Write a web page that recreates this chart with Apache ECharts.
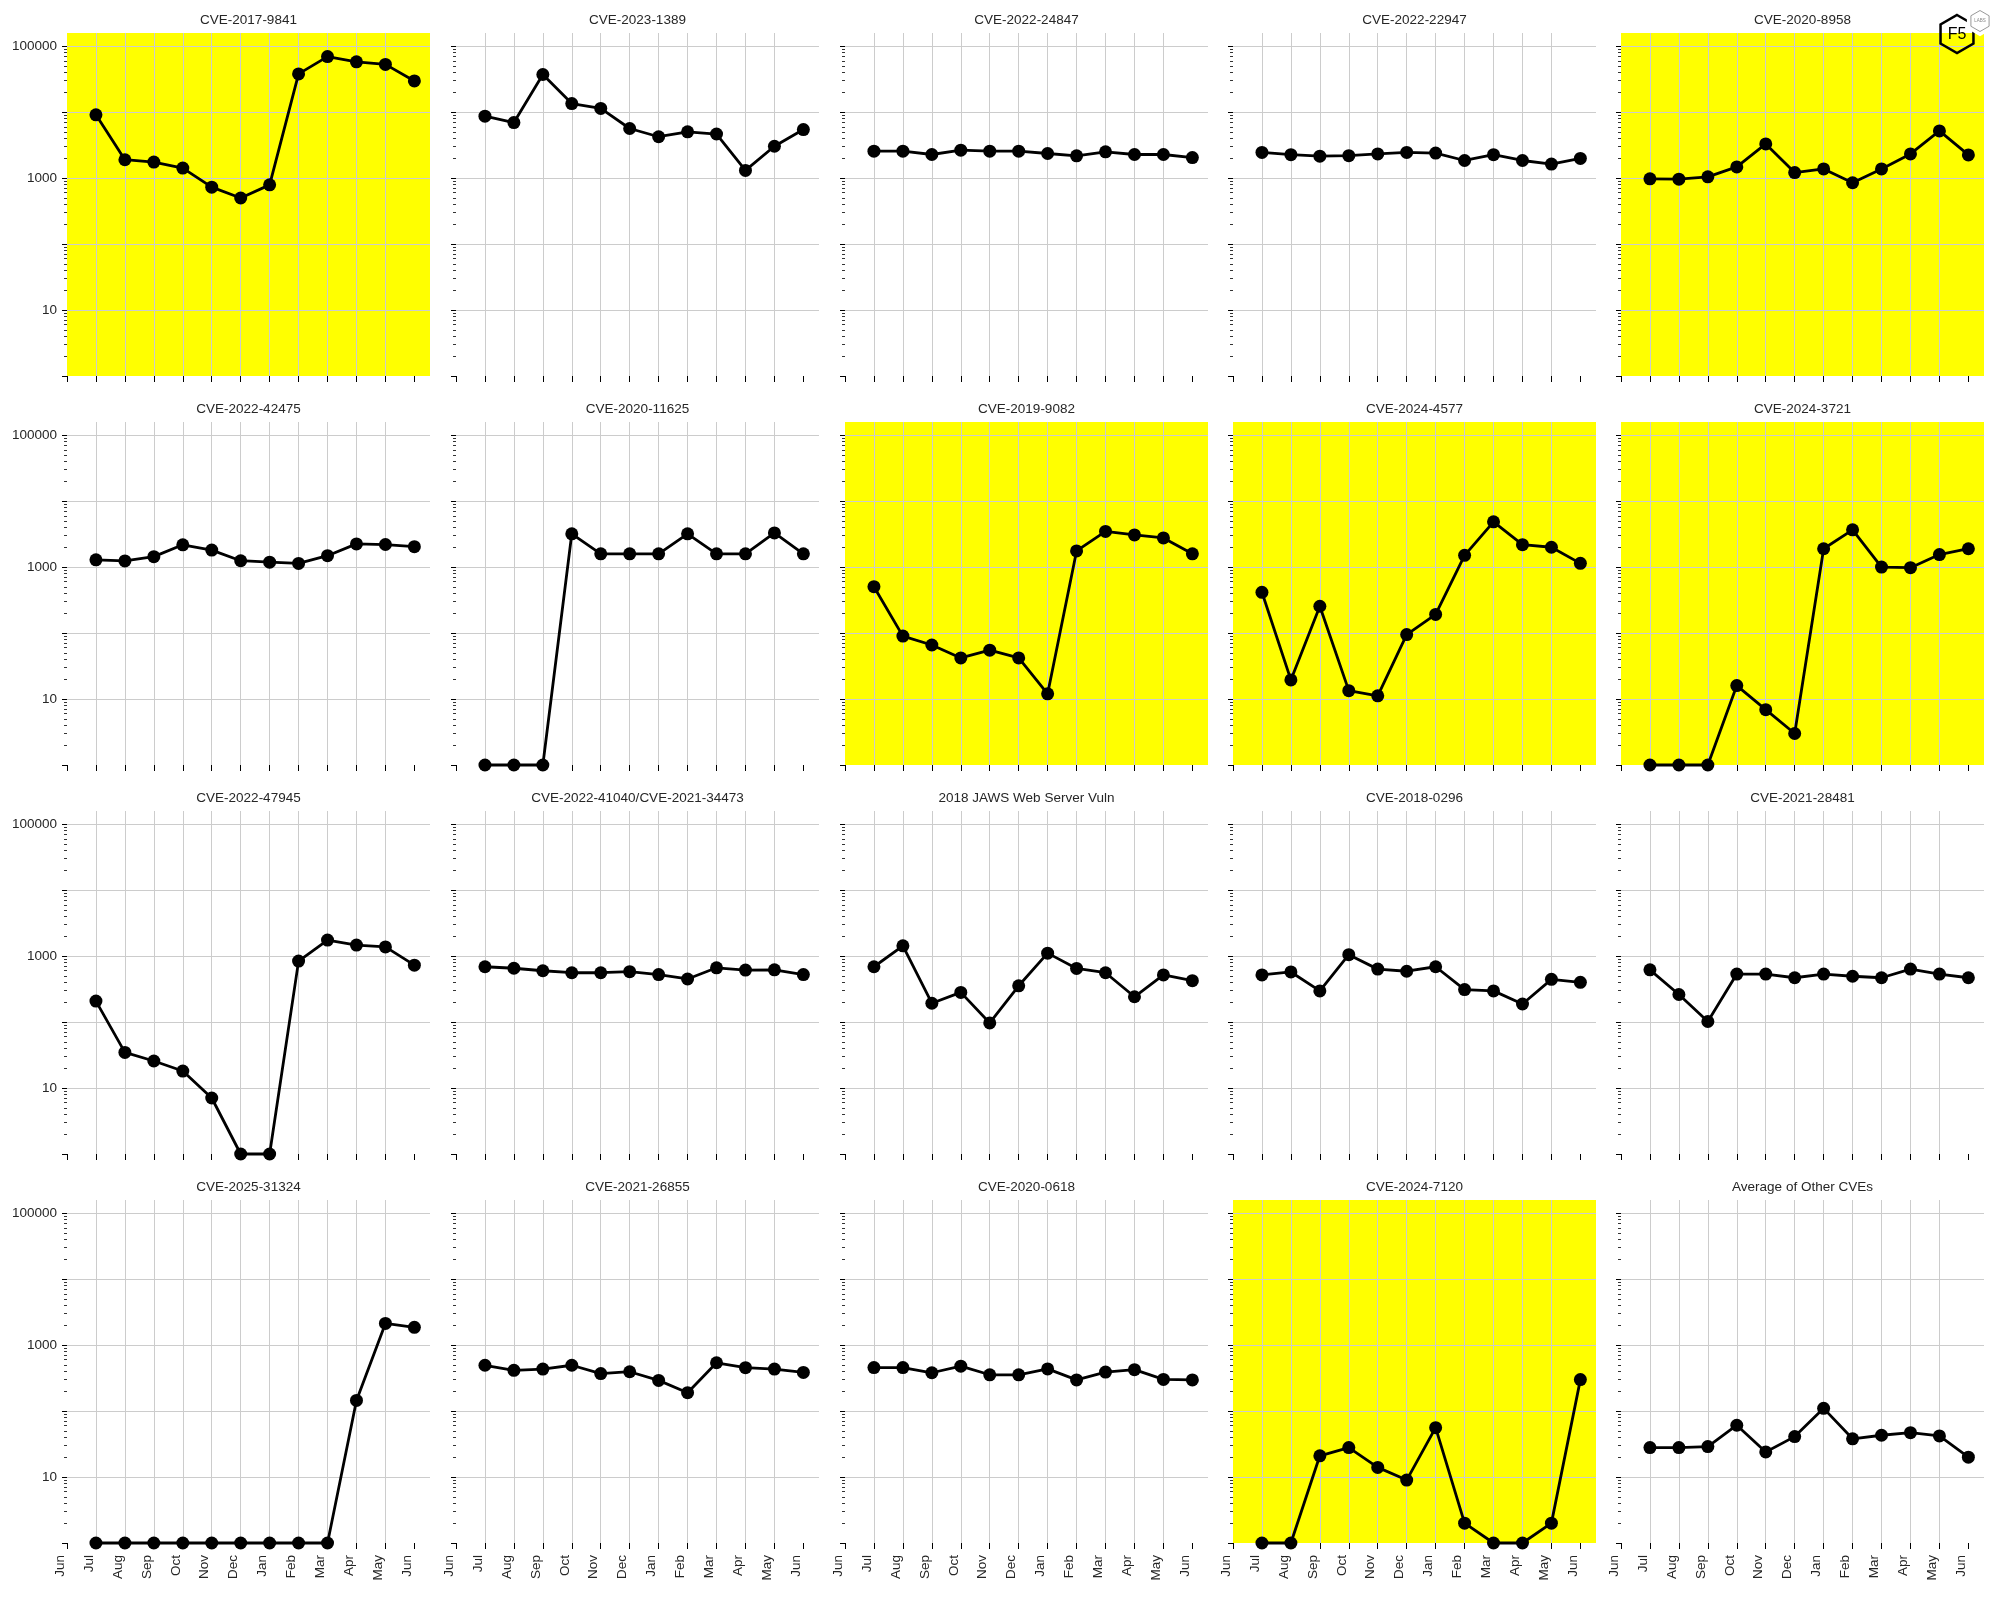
<!DOCTYPE html>
<html><head><meta charset="utf-8">
<script src="https://cdn.jsdelivr.net/npm/echarts@6/dist/echarts.min.js"></script>
<style>html,body{margin:0;padding:0;background:#fff}#chart{width:2000px;height:1600px}</style>
</head><body><div id="chart"></div>
<script>
// ---- Data ----
const monthTicks = ['Jun','Jul','Aug','Sep','Oct','Nov','Dec','Jan','Feb','Mar','Apr','May','Jun'];
const yLabelValues = [10, 1000, 100000];

const panelTitles = [
  'CVE-2017-9841','CVE-2023-1389','CVE-2022-24847','CVE-2022-22947','CVE-2020-8958',
  'CVE-2022-42475','CVE-2020-11625','CVE-2019-9082','CVE-2024-4577','CVE-2024-3721',
  'CVE-2022-47945','CVE-2022-41040/CVE-2021-34473','2018 JAWS Web Server Vuln','CVE-2018-0296','CVE-2021-28481',
  'CVE-2025-31324','CVE-2021-26855','CVE-2020-0618','CVE-2024-7120','Average of Other CVEs'
];
const highlighted = ['CVE-2017-9841','CVE-2020-8958','CVE-2019-9082','CVE-2024-4577','CVE-2024-3721','CVE-2024-7120'];

// monthly values, Jul .. Jun
const cve2017_9841  = [9100, 1900, 1750, 1420, 730, 500, 790, 38000, 69500, 58000, 53000, 29700];
const cve2023_1389  = [8700, 6950, 37200, 13500, 11400, 5650, 4240, 5030, 4660, 1310, 3040, 5450];
const cve2022_24847 = [2560, 2560, 2280, 2650, 2560, 2560, 2360, 2180, 2500, 2280, 2280, 2050];
const cve2022_22947 = [2450, 2270, 2150, 2190, 2330, 2450, 2400, 1850, 2270, 1850, 1630, 1990];
const cve2020_8958  = [975, 965, 1045, 1480, 3300, 1215, 1380, 850, 1380, 2330, 5200, 2250];
const cve2022_42475 = [1290, 1240, 1440, 2180, 1810, 1250, 1190, 1136, 1490, 2250, 2200, 2040];
const cve2020_11625 = [1, 1, 1, 3200, 1590, 1590, 1590, 3200, 1590, 1590, 3300, 1590];
const cve2019_9082  = [505, 90, 66, 42, 55, 42, 12, 1760, 3480, 3080, 2770, 1590];
const cve2024_4577  = [415, 19.5, 255, 13.4, 11.2, 95, 192, 1510, 4860, 2190, 2000, 1140];
const cve2024_3721  = [1, 1, 1, 16, 6.9, 3, 1900, 3670, 1000, 980, 1550, 1900];
const cve2022_47945 = [208, 34.7, 25.7, 18.1, 7.06, 1, 1, 840, 1750, 1470, 1380, 730];
const cve2022_41040 = [690, 655, 600, 560, 560, 580, 525, 450, 665, 615, 620, 525];
const jaws2018      = [690, 1430, 193, 282, 97, 355, 1110, 650, 560, 242, 519, 425];
const cve2018_0296  = [519, 575, 297, 1050, 635, 590, 690, 311, 297, 188, 445, 400];
const cve2021_28481 = [620, 262, 102, 535, 535, 470, 535, 495, 470, 635, 535, 470];
const cve2025_31324 = [1, 1, 1, 1, 1, 1, 1, 1, 1, 145, 2130, 1860];
const cve2021_26855 = [495, 415, 433, 495, 370, 395, 292, 190, 540, 455, 433, 385];
const cve2020_0618  = [457, 457, 381, 480, 355, 355, 436, 297, 390, 425, 302, 297];
const cve2024_7120  = [1, 1, 21, 28, 14, 9, 56, 2, 1, 1, 2, 300];
const averageOther  = [28, 28, 29, 61, 24, 41, 110, 38, 43, 47, 42, 20];

const panelValues = [
  cve2017_9841, cve2023_1389, cve2022_24847, cve2022_22947, cve2020_8958,
  cve2022_42475, cve2020_11625, cve2019_9082, cve2024_4577, cve2024_3721,
  cve2022_47945, cve2022_41040, jaws2018, cve2018_0296, cve2021_28481,
  cve2025_31324, cve2021_26855, cve2020_0618, cve2024_7120, averageOther
];

// ---- Layout ----
const colLeft = [67, 456, 845, 1233, 1621];
const rowTop = [33, 422, 811, 1200];
const W = 363, H = 343;
const Y_MIN = 1, Y_MAX = Math.pow(10, 5.2);
const X_MAX = 12.54;
const FONT = '"Liberation Sans", Arial, sans-serif';
const TXT = '#262626';
const GRIDC = '#cccccc';

const majorExp = [0, 1, 2, 3, 4, 5];
const minorExp = [];
for (let d = 0; d < 5; d++) for (let k = 2; k <= 9; k++) minorExp.push(d + Math.log10(k));

const option = {
  animation: false,
  backgroundColor: '#ffffff',
  grid: [], xAxis: [], yAxis: [], series: [], graphic: []
};

panelTitles.forEach((name, i) => {
  const r = Math.floor(i / 5), c = i % 5;
  const left = colLeft[c], top = rowTop[r];
  const hl = highlighted.includes(name);
  option.grid.push({
    left: left, top: top, width: W, height: H,
    show: true, backgroundColor: hl ? '#ffff00' : 'rgba(0,0,0,0)', borderWidth: 0,
    containLabel: false, outerBoundsMode: 'none'
  });
  option.graphic.push({
    type: 'text', x: left + W / 2, y: top - 13,
    style: { text: name, align: 'center', verticalAlign: 'middle', fontSize: 13.5, fontFamily: FONT, fill: TXT }
  });
  option.xAxis.push({
    type: 'value', gridIndex: i, min: 0, max: X_MAX, interval: 1, position: 'bottom',
    axisLine: { show: false },
    axisTick: { show: true, length: 6, lineStyle: { color: '#000', width: 1 }, customValues: monthTicks.map((m, k) => k) },
    axisLabel: {
      show: r === 3, rotate: 90, verticalAlign: 'bottom', margin: 12,
      fontSize: 13.5, fontFamily: FONT, color: TXT,
      customValues: monthTicks.map((m, k) => k),
      formatter: v => (Number.isInteger(v) && monthTicks[v]) ? monthTicks[v] : ''
    },
    splitLine: { show: true, showMinLine: false, showMaxLine: false, lineStyle: { color: GRIDC, width: 1 } }
  });
  // main log axis: labels + grid lines
  option.yAxis.push({
    type: 'log', logBase: 10, gridIndex: i, min: Y_MIN, max: Y_MAX, position: 'left',
    axisLine: { show: false }, axisTick: { show: false },
    axisLabel: {
      show: c === 0, margin: 10, fontSize: 13.5, fontFamily: FONT, color: TXT,
      formatter: v => { const rv = Math.round(v); return (yLabelValues.includes(rv) && Math.abs(rv - v) < 1e-6 * v) ? String(rv) : ''; }
    },
    splitLine: { show: true, showMinLine: false, showMaxLine: false, lineStyle: { color: GRIDC, width: 1 } }
  });
  // major ticks (decades, exponent space)
  option.yAxis.push({
    type: 'value', gridIndex: i, min: 0, max: 5.2, position: 'left',
    axisLine: { show: false }, axisLabel: { show: false }, splitLine: { show: false },
    axisTick: { show: true, length: 5, lineStyle: { color: '#000', width: 1 }, customValues: majorExp }
  });
  // minor ticks
  option.yAxis.push({
    type: 'value', gridIndex: i, min: 0, max: 5.2, position: 'left',
    axisLine: { show: false }, axisLabel: { show: false }, splitLine: { show: false },
    axisTick: { show: true, length: 3, lineStyle: { color: '#000', width: 0.8 }, customValues: minorExp }
  });
  option.series.push({
    type: 'line', name: name, xAxisIndex: i, yAxisIndex: 3 * i,
    data: panelValues[i].map((v, k) => [k + 1, v]),
    symbol: 'circle', symbolSize: 13, showSymbol: true, clip: false,
    lineStyle: { color: '#000', width: 2.8 }, itemStyle: { color: '#000' },
    emphasis: { disabled: true }, silent: true, z: 5
  });
});

// F5 Labs logo
function hexPoints(cx, cy, rad) {
  const pts = [];
  for (let k = 0; k < 6; k++) { const a = (-90 + 60 * k) * Math.PI / 180; pts.push([cx + rad * Math.cos(a), cy + rad * Math.sin(a)]); }
  return pts;
}
option.graphic.push(
  { type: 'polygon', shape: { points: hexPoints(1957, 34, 19) }, style: { fill: 'none', stroke: '#000', lineWidth: 2.5 }, z: 100 },
  { type: 'polygon', shape: { points: hexPoints(1980, 21, 14) }, style: { fill: '#fff', stroke: '#fff', lineWidth: 2 }, z: 101 },
  { type: 'polygon', shape: { points: hexPoints(1980, 21, 10.5) }, style: { fill: '#fff', stroke: '#999', lineWidth: 1 }, z: 102 },
  { type: 'text', x: 1957, y: 35, style: { text: 'F5', align: 'center', verticalAlign: 'middle', fontSize: 16, fontFamily: FONT, fill: '#000' }, z: 103 },
  { type: 'text', x: 1980, y: 21, style: { text: 'LABS', align: 'center', verticalAlign: 'middle', fontSize: 4.5, fontFamily: FONT, fill: '#888' }, z: 103 }
);

const chart = echarts.init(document.getElementById('chart'), null, { renderer: 'canvas', width: 2000, height: 1600 });
chart.setOption(option);
</script></body></html>
